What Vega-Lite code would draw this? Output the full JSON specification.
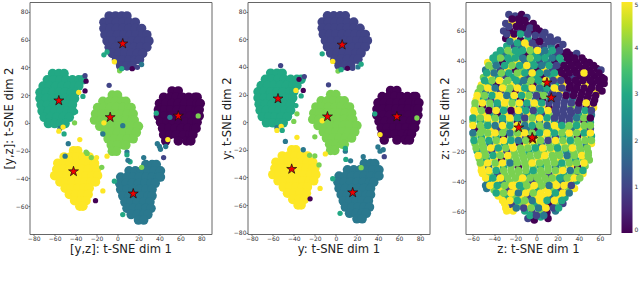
{"$schema":"https://vega.github.io/schema/vega-lite/v6.json","padding":{"left":2.5,"top":1,"right":0,"bottom":0},"spacing":36,"bounds":"flush","background":"white",
"config":{"view":{"stroke":"#666","strokeWidth":1},"axis":{"grid":false,"domain":false,"labelFontSize":6,"labelColor":"#333","tickSize":1.5,"tickColor":"#444","tickWidth":0.7,"labelPadding":0,"titleFont":"DejaVu Sans","labelFont":"DejaVu Sans","titleFontSize":11.6,"titleFontWeight":"normal","titleColor":"#222"},"legend":{"gradientLength":231,"gradientThickness":11,"labelFontSize":6,"labelFont":"DejaVu Sans","labelColor":"#333","offset":10,"padding":0,"title":null}},
"datasets":{
"core":[
{"x":-8,"y":77,"c":1},{"x":-2,"y":77,"c":1},{"x":4,"y":77,"c":1},{"x":9,"y":77,"c":1},{"x":-13,"y":72.5,"c":1},{"x":-7,"y":72.5,"c":1},{"x":-1,"y":72.5,"c":1},{"x":5,"y":72.5,"c":1},{"x":11,"y":72.5,"c":1},{"x":17,"y":72.5,"c":1},{"x":-13,"y":68,"c":1},{"x":-7,"y":68,"c":1},{"x":-1,"y":68,"c":1},{"x":5,"y":68,"c":1},{"x":11,"y":68,"c":1},{"x":17,"y":68,"c":1},{"x":23,"y":68,"c":1},{"x":-12,"y":63.5,"c":1},{"x":-6,"y":63.5,"c":1},{"x":0,"y":63.5,"c":1},{"x":6,"y":63.5,"c":1},{"x":12,"y":63.5,"c":1},{"x":18,"y":63.5,"c":1},{"x":24,"y":63.5,"c":1},{"x":28,"y":63.5,"c":1},{"x":-10,"y":59,"c":1},{"x":-4,"y":59,"c":1},{"x":2,"y":59,"c":1},{"x":8,"y":59,"c":1},{"x":14,"y":59,"c":1},{"x":20,"y":59,"c":1},{"x":26,"y":59,"c":1},{"x":30,"y":59,"c":1},{"x":-8,"y":54.5,"c":1},{"x":-2,"y":54.5,"c":1},{"x":4,"y":54.5,"c":1},{"x":10,"y":54.5,"c":1},{"x":16,"y":54.5,"c":1},{"x":22,"y":54.5,"c":1},{"x":28,"y":54.5,"c":1},{"x":-5,"y":50,"c":1},{"x":1,"y":50,"c":1},{"x":7,"y":50,"c":1},{"x":13,"y":50,"c":1},{"x":19,"y":50,"c":1},{"x":24,"y":50,"c":1},{"x":-1,"y":45.5,"c":1},{"x":5,"y":45.5,"c":1},{"x":11,"y":45.5,"c":1},{"x":17,"y":45.5,"c":1},{"x":21,"y":45.5,"c":1},{"x":3,"y":41,"c":1},{"x":9,"y":41,"c":1},{"x":14,"y":41,"c":1},
{"x":-62,"y":35.5,"c":3},{"x":-56,"y":35.5,"c":3},{"x":-51,"y":35.5,"c":3},{"x":-67,"y":31,"c":3},{"x":-61,"y":31,"c":3},{"x":-55,"y":31,"c":3},{"x":-49,"y":31,"c":3},{"x":-43,"y":31,"c":3},{"x":-37,"y":31,"c":3},{"x":-33,"y":31,"c":3},{"x":-71,"y":26.5,"c":3},{"x":-65,"y":26.5,"c":3},{"x":-59,"y":26.5,"c":3},{"x":-53,"y":26.5,"c":3},{"x":-47,"y":26.5,"c":3},{"x":-41,"y":26.5,"c":3},{"x":-37,"y":26.5,"c":3},{"x":-74,"y":22,"c":3},{"x":-68,"y":22,"c":3},{"x":-62,"y":22,"c":3},{"x":-56,"y":22,"c":3},{"x":-50,"y":22,"c":3},{"x":-44,"y":22,"c":3},{"x":-40,"y":22,"c":3},{"x":-74,"y":17.5,"c":3},{"x":-68,"y":17.5,"c":3},{"x":-62,"y":17.5,"c":3},{"x":-56,"y":17.5,"c":3},{"x":-50,"y":17.5,"c":3},{"x":-44,"y":17.5,"c":3},{"x":-41,"y":17.5,"c":3},{"x":-73,"y":13,"c":3},{"x":-67,"y":13,"c":3},{"x":-61,"y":13,"c":3},{"x":-55,"y":13,"c":3},{"x":-49,"y":13,"c":3},{"x":-43,"y":13,"c":3},{"x":-72,"y":8.5,"c":3},{"x":-66,"y":8.5,"c":3},{"x":-60,"y":8.5,"c":3},{"x":-54,"y":8.5,"c":3},{"x":-48,"y":8.5,"c":3},{"x":-43,"y":8.5,"c":3},{"x":-70,"y":4,"c":3},{"x":-64,"y":4,"c":3},{"x":-58,"y":4,"c":3},{"x":-52,"y":4,"c":3},{"x":-46,"y":4,"c":3},{"x":-66,"y":-0.5,"c":3},{"x":-60,"y":-0.5,"c":3},{"x":-54,"y":-0.5,"c":3},{"x":-50,"y":-0.5,"c":3},
{"x":-5,"y":20,"c":4},{"x":0,"y":20,"c":4},{"x":-14,"y":15.5,"c":4},{"x":-8,"y":15.5,"c":4},{"x":-2,"y":15.5,"c":4},{"x":4,"y":15.5,"c":4},{"x":8,"y":15.5,"c":4},{"x":-19,"y":11,"c":4},{"x":-13,"y":11,"c":4},{"x":-7,"y":11,"c":4},{"x":-1,"y":11,"c":4},{"x":5,"y":11,"c":4},{"x":11,"y":11,"c":4},{"x":13,"y":11,"c":4},{"x":-21,"y":6.5,"c":4},{"x":-15,"y":6.5,"c":4},{"x":-9,"y":6.5,"c":4},{"x":-3,"y":6.5,"c":4},{"x":3,"y":6.5,"c":4},{"x":9,"y":6.5,"c":4},{"x":15,"y":6.5,"c":4},{"x":-22,"y":2,"c":4},{"x":-16,"y":2,"c":4},{"x":-10,"y":2,"c":4},{"x":-4,"y":2,"c":4},{"x":2,"y":2,"c":4},{"x":8,"y":2,"c":4},{"x":14,"y":2,"c":4},{"x":16,"y":2,"c":4},{"x":-17,"y":-2.5,"c":4},{"x":-11,"y":-2.5,"c":4},{"x":-5,"y":-2.5,"c":4},{"x":1,"y":-2.5,"c":4},{"x":7,"y":-2.5,"c":4},{"x":13,"y":-2.5,"c":4},{"x":19,"y":-2.5,"c":4},{"x":20,"y":-2.5,"c":4},{"x":-12,"y":-7,"c":4},{"x":-6,"y":-7,"c":4},{"x":0,"y":-7,"c":4},{"x":6,"y":-7,"c":4},{"x":12,"y":-7,"c":4},{"x":18,"y":-7,"c":4},{"x":-9,"y":-11.5,"c":4},{"x":-3,"y":-11.5,"c":4},{"x":3,"y":-11.5,"c":4},{"x":9,"y":-11.5,"c":4},{"x":15,"y":-11.5,"c":4},{"x":-6,"y":-16,"c":4},{"x":0,"y":-16,"c":4},{"x":6,"y":-16,"c":4},{"x":8,"y":-16,"c":4},{"x":-5,"y":-20.5,"c":4},{"x":-1,"y":-20.5,"c":4},
{"x":-42,"y":-20,"c":5},{"x":-38,"y":-20,"c":5},{"x":-51,"y":-24.5,"c":5},{"x":-45,"y":-24.5,"c":5},{"x":-39,"y":-24.5,"c":5},{"x":-33,"y":-24.5,"c":5},{"x":-27,"y":-24.5,"c":5},{"x":-57,"y":-29,"c":5},{"x":-51,"y":-29,"c":5},{"x":-45,"y":-29,"c":5},{"x":-39,"y":-29,"c":5},{"x":-33,"y":-29,"c":5},{"x":-27,"y":-29,"c":5},{"x":-22,"y":-29,"c":5},{"x":-58,"y":-33.5,"c":5},{"x":-52,"y":-33.5,"c":5},{"x":-46,"y":-33.5,"c":5},{"x":-40,"y":-33.5,"c":5},{"x":-34,"y":-33.5,"c":5},{"x":-28,"y":-33.5,"c":5},{"x":-22,"y":-33.5,"c":5},{"x":-20,"y":-33.5,"c":5},{"x":-60,"y":-38,"c":5},{"x":-54,"y":-38,"c":5},{"x":-48,"y":-38,"c":5},{"x":-42,"y":-38,"c":5},{"x":-36,"y":-38,"c":5},{"x":-30,"y":-38,"c":5},{"x":-24,"y":-38,"c":5},{"x":-19,"y":-38,"c":5},{"x":-55,"y":-42.5,"c":5},{"x":-49,"y":-42.5,"c":5},{"x":-43,"y":-42.5,"c":5},{"x":-37,"y":-42.5,"c":5},{"x":-31,"y":-42.5,"c":5},{"x":-25,"y":-42.5,"c":5},{"x":-21,"y":-42.5,"c":5},{"x":-50,"y":-47,"c":5},{"x":-44,"y":-47,"c":5},{"x":-38,"y":-47,"c":5},{"x":-32,"y":-47,"c":5},{"x":-27,"y":-47,"c":5},{"x":-46,"y":-51.5,"c":5},{"x":-40,"y":-51.5,"c":5},{"x":-34,"y":-51.5,"c":5},{"x":-28,"y":-51.5,"c":5},{"x":-41,"y":-56,"c":5},{"x":-35,"y":-56,"c":5},{"x":-30,"y":-56,"c":5},{"x":-36,"y":-60,"c":5},{"x":-33,"y":-60,"c":5},
{"x":27,"y":-30,"c":2},{"x":33,"y":-30,"c":2},{"x":37,"y":-30,"c":2},{"x":11,"y":-34.5,"c":2},{"x":17,"y":-34.5,"c":2},{"x":23,"y":-34.5,"c":2},{"x":29,"y":-34.5,"c":2},{"x":35,"y":-34.5,"c":2},{"x":41,"y":-34.5,"c":2},{"x":3,"y":-39,"c":2},{"x":9,"y":-39,"c":2},{"x":15,"y":-39,"c":2},{"x":21,"y":-39,"c":2},{"x":27,"y":-39,"c":2},{"x":33,"y":-39,"c":2},{"x":39,"y":-39,"c":2},{"x":41,"y":-39,"c":2},{"x":2,"y":-43.5,"c":2},{"x":8,"y":-43.5,"c":2},{"x":14,"y":-43.5,"c":2},{"x":20,"y":-43.5,"c":2},{"x":26,"y":-43.5,"c":2},{"x":32,"y":-43.5,"c":2},{"x":36,"y":-43.5,"c":2},{"x":3,"y":-48,"c":2},{"x":9,"y":-48,"c":2},{"x":15,"y":-48,"c":2},{"x":21,"y":-48,"c":2},{"x":27,"y":-48,"c":2},{"x":33,"y":-48,"c":2},{"x":5,"y":-52.5,"c":2},{"x":11,"y":-52.5,"c":2},{"x":17,"y":-52.5,"c":2},{"x":23,"y":-52.5,"c":2},{"x":29,"y":-52.5,"c":2},{"x":33,"y":-52.5,"c":2},{"x":7,"y":-57,"c":2},{"x":13,"y":-57,"c":2},{"x":19,"y":-57,"c":2},{"x":25,"y":-57,"c":2},{"x":31,"y":-57,"c":2},{"x":9,"y":-61.5,"c":2},{"x":15,"y":-61.5,"c":2},{"x":21,"y":-61.5,"c":2},{"x":27,"y":-61.5,"c":2},{"x":32,"y":-61.5,"c":2},{"x":13,"y":-66,"c":2},{"x":19,"y":-66,"c":2},{"x":25,"y":-66,"c":2},{"x":29,"y":-66,"c":2},{"x":20,"y":-70,"c":2},{"x":25,"y":-70,"c":2},
{"x":52,"y":23,"c":0},{"x":58,"y":23,"c":0},{"x":44,"y":18.5,"c":0},{"x":50,"y":18.5,"c":0},{"x":56,"y":18.5,"c":0},{"x":62,"y":18.5,"c":0},{"x":68,"y":18.5,"c":0},{"x":74,"y":18.5,"c":0},{"x":76,"y":18.5,"c":0},{"x":40,"y":14,"c":0},{"x":46,"y":14,"c":0},{"x":52,"y":14,"c":0},{"x":58,"y":14,"c":0},{"x":64,"y":14,"c":0},{"x":70,"y":14,"c":0},{"x":76,"y":14,"c":0},{"x":79,"y":14,"c":0},{"x":39,"y":9.5,"c":0},{"x":45,"y":9.5,"c":0},{"x":51,"y":9.5,"c":0},{"x":57,"y":9.5,"c":0},{"x":63,"y":9.5,"c":0},{"x":69,"y":9.5,"c":0},{"x":75,"y":9.5,"c":0},{"x":78,"y":9.5,"c":0},{"x":39,"y":5,"c":0},{"x":45,"y":5,"c":0},{"x":51,"y":5,"c":0},{"x":57,"y":5,"c":0},{"x":63,"y":5,"c":0},{"x":69,"y":5,"c":0},{"x":75,"y":5,"c":0},{"x":78,"y":5,"c":0},{"x":41,"y":0.5,"c":0},{"x":47,"y":0.5,"c":0},{"x":53,"y":0.5,"c":0},{"x":59,"y":0.5,"c":0},{"x":65,"y":0.5,"c":0},{"x":71,"y":0.5,"c":0},{"x":76,"y":0.5,"c":0},{"x":43,"y":-4,"c":0},{"x":49,"y":-4,"c":0},{"x":55,"y":-4,"c":0},{"x":61,"y":-4,"c":0},{"x":67,"y":-4,"c":0},{"x":73,"y":-4,"c":0},{"x":75,"y":-4,"c":0},{"x":44,"y":-8.5,"c":0},{"x":50,"y":-8.5,"c":0},{"x":56,"y":-8.5,"c":0},{"x":63,"y":-8.5,"c":0},{"x":69,"y":-8.5,"c":0},{"x":72,"y":-8.5,"c":0},{"x":46,"y":-13,"c":0},{"x":58,"y":-13,"c":0},{"x":66,"y":-13,"c":0},{"x":70,"y":-13,"c":0}],
"s1":[{"x":-13,"y":49,"c":3},{"x":-10,"y":51,"c":3},{"x":-3,"y":44,"c":5},{"x":2,"y":37.5,"c":4},{"x":4,"y":39,"c":3},{"x":14,"y":39,"c":0},{"x":23,"y":42,"c":2},{"x":19,"y":40,"c":1},{"x":-31,"y":34,"c":1},{"x":-30,"y":30,"c":0},{"x":-31,"y":23,"c":0},{"x":-37,"y":22,"c":5},{"x":-33,"y":19,"c":3},{"x":-55,"y":-4,"c":2},{"x":-56,"y":-6,"c":5},{"x":-52,"y":-3,"c":5},{"x":-51,"y":-8,"c":3},{"x":-41,"y":0,"c":4},{"x":-40,"y":8,"c":3},{"x":-8,"y":27,"c":1},{"x":-13,"y":0,"c":5},{"x":5,"y":-2,"c":2},{"x":-14,"y":-8,"c":2},{"x":9,"y":-21,"c":2},{"x":9,"y":-23,"c":3},{"x":-10,"y":-24,"c":5},{"x":-29,"y":-22,"c":4},{"x":-25,"y":-25,"c":4},{"x":-20,"y":-25,"c":5},{"x":-15,"y":-32,"c":4},{"x":-36,"y":-12,"c":5},{"x":-47,"y":-15,"c":2},{"x":-30,"y":-21,"c":4},{"x":-21,"y":-56,"c":0},{"x":-14,"y":-49,"c":5},{"x":-50,"y":-24,"c":2},{"x":-3,"y":-42,"c":3},{"x":23,"y":-32,"c":4},{"x":12,"y":-28,"c":3},{"x":10,"y":-27,"c":2},{"x":25,"y":-25,"c":2},{"x":44,"y":-25,"c":1},{"x":5,"y":-66,"c":3},{"x":38,"y":-15,"c":2},{"x":40,"y":-17,"c":2},{"x":41,"y":-19,"c":2},{"x":46,"y":-17,"c":2},{"x":48,"y":-12,"c":5},{"x":77,"y":5,"c":4},{"x":37,"y":7,"c":3},{"x":50,"y":4,"c":2}],
"s2":[{"x":-13,"y":49.5,"c":3},{"x":-3,"y":44,"c":5},{"x":2,"y":37,"c":4},{"x":5,"y":38,"c":3},{"x":11,"y":39,"c":0},{"x":16,"y":39,"c":1},{"x":21,"y":40,"c":2},{"x":24,"y":42,"c":3},{"x":-52.5,"y":41,"c":1},{"x":-30,"y":33,"c":1},{"x":-35,"y":31,"c":0},{"x":-31,"y":23,"c":0},{"x":-38,"y":23,"c":5},{"x":-33,"y":19,"c":3},{"x":-38,"y":12,"c":3},{"x":-56,"y":-4,"c":2},{"x":-56,"y":-6,"c":5},{"x":-52,"y":-3,"c":5},{"x":-51,"y":-6,"c":3},{"x":-40,"y":0.5,"c":4},{"x":-37,"y":6,"c":4},{"x":-7,"y":27,"c":1},{"x":-20,"y":-10.6,"c":4},{"x":-13,"y":1,"c":5},{"x":-37,"y":-11,"c":5},{"x":-48,"y":-14,"c":2},{"x":-31,"y":-20,"c":2},{"x":-25,"y":-24,"c":4},{"x":-20,"y":-24.5,"c":4},{"x":-10,"y":-23,"c":5},{"x":-16,"y":-31,"c":4},{"x":-15,"y":-48,"c":5},{"x":-24.5,"y":-55.5,"c":0},{"x":-3,"y":-41,"c":3},{"x":9.5,"y":-27,"c":3},{"x":14,"y":-28,"c":2},{"x":24,"y":-33,"c":4},{"x":26,"y":-25,"c":2},{"x":9,"y":-21,"c":2},{"x":9,"y":-19,"c":3},{"x":40,"y":-18,"c":2},{"x":42,"y":-21,"c":2},{"x":46,"y":-25,"c":1},{"x":45,"y":-20,"c":2},{"x":42,"y":-9,"c":5},{"x":77,"y":3,"c":4},{"x":37,"y":6,"c":3},{"x":4,"y":-66,"c":3}],
"z":[
{"x":-26,"y":71,"c":1},{"x":-20,"y":70,"c":1},{"x":-14,"y":71,"c":0},{"x":-9,"y":69,"c":1},
{"x":-29,"y":65,"c":1},{"x":-23,"y":66,"c":5},{"x":-16,"y":65,"c":0},{"x":-9,"y":64,"c":0},{"x":-3,"y":65,"c":0},
{"x":-31,"y":60,"c":1},{"x":-25,"y":60,"c":0},{"x":-18,"y":61,"c":1},{"x":-11,"y":59,"c":2},{"x":-4,"y":60,"c":0},{"x":3,"y":60,"c":0},{"x":8,"y":59,"c":1},
{"x":-29,"y":55,"c":0},{"x":-22,"y":56,"c":5},{"x":-15,"y":54,"c":0},{"x":-8,"y":55,"c":3},{"x":-1,"y":54,"c":0},{"x":6,"y":55,"c":1},{"x":13,"y":56,"c":1},{"x":20,"y":54,"c":1},
{"x":-28,"y":50,"c":3},{"x":-21,"y":50,"c":1},{"x":-14,"y":49,"c":2},{"x":-7,"y":50,"c":5},{"x":0,"y":49,"c":1},{"x":7,"y":50,"c":1},{"x":14,"y":50,"c":2},{"x":21,"y":49,"c":0},{"x":25,"y":51,"c":1},
{"x":-38,"y":44,"c":3},{"x":-31,"y":45,"c":2},{"x":-24,"y":44,"c":4},{"x":-17,"y":45,"c":3},{"x":-10,"y":44,"c":0},{"x":-3,"y":45,"c":3},{"x":4,"y":44,"c":2},{"x":11,"y":45,"c":3},{"x":18,"y":44,"c":1},{"x":25,"y":45,"c":0},{"x":32,"y":44,"c":0},{"x":38,"y":45,"c":1},
{"x":-46,"y":39,"c":5},{"x":-39,"y":40,"c":3},{"x":-32,"y":39,"c":0},{"x":-25,"y":40,"c":3},{"x":-18,"y":39,"c":5},{"x":-11,"y":40,"c":2},{"x":-4,"y":39,"c":3},{"x":3,"y":40,"c":1},{"x":10,"y":39,"c":2},{"x":17,"y":40,"c":0},{"x":24,"y":39,"c":3},{"x":31,"y":40,"c":0},{"x":38,"y":39,"c":0},{"x":45,"y":40,"c":0},{"x":50,"y":39,"c":0},
{"x":-48,"y":34,"c":2},{"x":-41,"y":35,"c":4},{"x":-34,"y":34,"c":1},{"x":-27,"y":35,"c":5},{"x":-20,"y":34,"c":0},{"x":-13,"y":35,"c":4},{"x":-6,"y":34,"c":2},{"x":1,"y":35,"c":0},{"x":8,"y":34,"c":5},{"x":15,"y":35,"c":1},{"x":22,"y":34,"c":0},{"x":29,"y":35,"c":0},{"x":36,"y":34,"c":0},{"x":43,"y":35,"c":0},{"x":50,"y":34,"c":0},{"x":57,"y":35,"c":0},{"x":61,"y":34,"c":1},
{"x":-50,"y":29,"c":4},{"x":-43,"y":30,"c":5},{"x":-36,"y":29,"c":3},{"x":-29,"y":30,"c":1},{"x":-22,"y":29,"c":3},{"x":-15,"y":30,"c":5},{"x":-8,"y":29,"c":1},{"x":-1,"y":30,"c":3},{"x":6,"y":29,"c":0},{"x":13,"y":30,"c":3},{"x":20,"y":29,"c":5},{"x":27,"y":30,"c":0},{"x":34,"y":29,"c":1},{"x":41,"y":30,"c":0},{"x":48,"y":29,"c":0},{"x":55,"y":30,"c":0},{"x":62,"y":29,"c":0},
{"x":-52,"y":24,"c":5},{"x":-45,"y":25,"c":3},{"x":-38,"y":24,"c":0},{"x":-31,"y":25,"c":4},{"x":-24,"y":24,"c":5},{"x":-17,"y":25,"c":2},{"x":-10,"y":24,"c":4},{"x":-3,"y":25,"c":0},{"x":4,"y":24,"c":4},{"x":11,"y":25,"c":1},{"x":18,"y":24,"c":3},{"x":25,"y":25,"c":5},{"x":32,"y":24,"c":0},{"x":39,"y":25,"c":0},{"x":46,"y":24,"c":5},{"x":53,"y":25,"c":0},{"x":60,"y":24,"c":0},{"x":64,"y":25,"c":0},
{"x":-55,"y":19,"c":4},{"x":-48,"y":20,"c":2},{"x":-41,"y":19,"c":5},{"x":-34,"y":20,"c":1},{"x":-27,"y":19,"c":4},{"x":-20,"y":20,"c":0},{"x":-13,"y":19,"c":5},{"x":-6,"y":20,"c":2},{"x":1,"y":19,"c":4},{"x":8,"y":20,"c":2},{"x":15,"y":19,"c":1},{"x":22,"y":20,"c":5},{"x":29,"y":19,"c":1},{"x":36,"y":20,"c":0},{"x":43,"y":19,"c":0},{"x":50,"y":20,"c":0},{"x":57,"y":19,"c":5},{"x":62,"y":20,"c":0},
{"x":-57,"y":14,"c":5},{"x":-50,"y":15,"c":3},{"x":-43,"y":14,"c":1},{"x":-36,"y":15,"c":5},{"x":-29,"y":14,"c":5},{"x":-22,"y":15,"c":3},{"x":-15,"y":14,"c":0},{"x":-8,"y":15,"c":5},{"x":-1,"y":14,"c":2},{"x":6,"y":15,"c":0},{"x":13,"y":14,"c":3},{"x":20,"y":15,"c":1},{"x":27,"y":14,"c":1},{"x":34,"y":15,"c":2},{"x":41,"y":14,"c":0},{"x":48,"y":15,"c":0},{"x":55,"y":14,"c":0},
{"x":-58,"y":9,"c":4},{"x":-51,"y":10,"c":0},{"x":-44,"y":9,"c":4},{"x":-37,"y":10,"c":2},{"x":-30,"y":9,"c":4},{"x":-23,"y":10,"c":5},{"x":-16,"y":9,"c":3},{"x":-9,"y":10,"c":1},{"x":-2,"y":9,"c":4},{"x":5,"y":10,"c":5},{"x":12,"y":9,"c":0},{"x":19,"y":10,"c":1},{"x":26,"y":9,"c":1},{"x":33,"y":10,"c":4},{"x":40,"y":9,"c":1},{"x":47,"y":10,"c":0},{"x":54,"y":9,"c":5},
{"x":-58,"y":4,"c":5},{"x":-51,"y":5,"c":5},{"x":-44,"y":4,"c":3},{"x":-37,"y":5,"c":0},{"x":-30,"y":4,"c":5},{"x":-23,"y":5,"c":1},{"x":-16,"y":4,"c":2},{"x":-9,"y":5,"c":5},{"x":-2,"y":4,"c":3},{"x":5,"y":5,"c":1},{"x":12,"y":4,"c":4},{"x":19,"y":5,"c":1},{"x":26,"y":4,"c":1},{"x":33,"y":5,"c":1},{"x":40,"y":4,"c":3},{"x":47,"y":5,"c":5},{"x":52,"y":4,"c":2},
{"x":-60,"y":0,"c":4},{"x":-53,"y":0,"c":3},{"x":-46,"y":-1,"c":4},{"x":-39,"y":0,"c":5},{"x":-32,"y":-1,"c":2},{"x":-25,"y":0,"c":4},{"x":-18,"y":-1,"c":0},{"x":-11,"y":0,"c":4},{"x":-4,"y":-1,"c":5},{"x":3,"y":0,"c":2},{"x":10,"y":-1,"c":5},{"x":17,"y":0,"c":3},{"x":24,"y":-1,"c":1},{"x":31,"y":0,"c":1},{"x":38,"y":-1,"c":4},{"x":45,"y":0,"c":0},{"x":51,"y":-1,"c":3},
{"x":-58,"y":-5,"c":0},{"x":-51,"y":-6,"c":4},{"x":-44,"y":-5,"c":5},{"x":-37,"y":-6,"c":1},{"x":-30,"y":-5,"c":4},{"x":-23,"y":-6,"c":5},{"x":-16,"y":-5,"c":4},{"x":-9,"y":-6,"c":2},{"x":-2,"y":-5,"c":0},{"x":5,"y":-6,"c":4},{"x":12,"y":-5,"c":3},{"x":19,"y":-6,"c":5},{"x":26,"y":-5,"c":4},{"x":33,"y":-6,"c":2},{"x":40,"y":-5,"c":5},{"x":47,"y":-6,"c":4},{"x":51,"y":-5,"c":1},
{"x":-59,"y":-10,"c":4},{"x":-52,"y":-11,"c":3},{"x":-45,"y":-10,"c":5},{"x":-38,"y":-11,"c":3},{"x":-31,"y":-10,"c":0},{"x":-24,"y":-11,"c":4},{"x":-17,"y":-10,"c":5},{"x":-10,"y":-11,"c":1},{"x":-3,"y":-10,"c":3},{"x":4,"y":-11,"c":5},{"x":11,"y":-10,"c":4},{"x":18,"y":-11,"c":1},{"x":25,"y":-10,"c":3},{"x":32,"y":-11,"c":4},{"x":39,"y":-10,"c":0},{"x":46,"y":-11,"c":5},{"x":52,"y":-10,"c":3},
{"x":-58,"y":-15,"c":4},{"x":-51,"y":-16,"c":4},{"x":-44,"y":-15,"c":2},{"x":-37,"y":-16,"c":5},{"x":-30,"y":-15,"c":3},{"x":-23,"y":-16,"c":5},{"x":-16,"y":-15,"c":0},{"x":-9,"y":-16,"c":5},{"x":-2,"y":-15,"c":4},{"x":5,"y":-16,"c":2},{"x":12,"y":-15,"c":4},{"x":19,"y":-16,"c":4},{"x":26,"y":-15,"c":5},{"x":33,"y":-16,"c":4},{"x":40,"y":-15,"c":4},{"x":47,"y":-16,"c":2},{"x":52,"y":-15,"c":5},
{"x":-56,"y":-20,"c":3},{"x":-49,"y":-21,"c":4},{"x":-42,"y":-20,"c":1},{"x":-35,"y":-21,"c":5},{"x":-28,"y":-20,"c":1},{"x":-21,"y":-21,"c":4},{"x":-14,"y":-20,"c":4},{"x":-7,"y":-21,"c":3},{"x":0,"y":-20,"c":4},{"x":7,"y":-21,"c":4},{"x":14,"y":-20,"c":5},{"x":21,"y":-21,"c":4},{"x":28,"y":-20,"c":3},{"x":35,"y":-21,"c":4},{"x":42,"y":-20,"c":4},{"x":49,"y":-21,"c":4},
{"x":-54,"y":-25,"c":4},{"x":-47,"y":-26,"c":3},{"x":-40,"y":-25,"c":5},{"x":-33,"y":-26,"c":0},{"x":-26,"y":-25,"c":4},{"x":-19,"y":-26,"c":4},{"x":-12,"y":-25,"c":4},{"x":-5,"y":-26,"c":4},{"x":2,"y":-25,"c":5},{"x":9,"y":-26,"c":4},{"x":16,"y":-25,"c":4},{"x":23,"y":-26,"c":5},{"x":30,"y":-25,"c":4},{"x":37,"y":-26,"c":3},{"x":44,"y":-25,"c":4},{"x":50,"y":-26,"c":4},
{"x":-52,"y":-30,"c":5},{"x":-45,"y":-31,"c":2},{"x":-38,"y":-30,"c":5},{"x":-31,"y":-31,"c":3},{"x":-24,"y":-30,"c":4},{"x":-17,"y":-31,"c":0},{"x":-10,"y":-30,"c":4},{"x":-3,"y":-31,"c":4},{"x":4,"y":-30,"c":3},{"x":11,"y":-31,"c":4},{"x":18,"y":-30,"c":2},{"x":25,"y":-31,"c":4},{"x":32,"y":-30,"c":5},{"x":39,"y":-31,"c":0},{"x":46,"y":-30,"c":4},
{"x":-51,"y":-35,"c":5},{"x":-44,"y":-36,"c":4},{"x":-37,"y":-35,"c":1},{"x":-30,"y":-36,"c":4},{"x":-23,"y":-35,"c":4},{"x":-16,"y":-36,"c":4},{"x":-9,"y":-35,"c":3},{"x":-2,"y":-36,"c":4},{"x":5,"y":-35,"c":4},{"x":12,"y":-36,"c":1},{"x":19,"y":-35,"c":5},{"x":26,"y":-36,"c":3},{"x":33,"y":-35,"c":4},{"x":40,"y":-36,"c":2},{"x":44,"y":-35,"c":5},
{"x":-46,"y":-40,"c":3},{"x":-39,"y":-41,"c":5},{"x":-32,"y":-40,"c":2},{"x":-25,"y":-41,"c":4},{"x":-18,"y":-40,"c":5},{"x":-11,"y":-41,"c":4},{"x":-4,"y":-40,"c":1},{"x":3,"y":-41,"c":4},{"x":10,"y":-40,"c":4},{"x":17,"y":-41,"c":5},{"x":24,"y":-40,"c":2},{"x":31,"y":-41,"c":5},{"x":38,"y":-40,"c":3},
{"x":-47,"y":-45,"c":2},{"x":-40,"y":-46,"c":4},{"x":-33,"y":-45,"c":5},{"x":-26,"y":-46,"c":1},{"x":-19,"y":-45,"c":5},{"x":-12,"y":-46,"c":3},{"x":-5,"y":-45,"c":5},{"x":2,"y":-46,"c":3},{"x":9,"y":-45,"c":5},{"x":16,"y":-46,"c":4},{"x":23,"y":-45,"c":1},{"x":30,"y":-46,"c":4},{"x":36,"y":-45,"c":5},
{"x":-36,"y":-50,"c":5},{"x":-29,"y":-51,"c":3},{"x":-22,"y":-50,"c":4},{"x":-15,"y":-51,"c":5},{"x":-8,"y":-50,"c":1},{"x":-1,"y":-51,"c":5},{"x":6,"y":-50,"c":5},{"x":13,"y":-51,"c":2},{"x":20,"y":-50,"c":5},{"x":27,"y":-51,"c":3},
{"x":-30,"y":-55,"c":5},{"x":-23,"y":-56,"c":1},{"x":-16,"y":-55,"c":4},{"x":-9,"y":-56,"c":5},{"x":-2,"y":-55,"c":3},{"x":5,"y":-56,"c":5},{"x":12,"y":-55,"c":0},{"x":19,"y":-56,"c":4},{"x":25,"y":-55,"c":1},
{"x":-28,"y":-60,"c":5},{"x":-22,"y":-60,"c":5},{"x":-11,"y":-60,"c":3},{"x":-4,"y":-61,"c":1},{"x":3,"y":-60,"c":4},{"x":10,"y":-61,"c":0},{"x":18,"y":-60,"c":2},
{"x":-8,"y":-65,"c":1},{"x":-2,"y":-66,"c":0},{"x":4,"y":-64,"c":3},{"x":11,"y":-65,"c":0},{"x":-48,"y":-43,"c":2},
{"x":-23,"y":68,"c":0},{"x":-17,"y":68,"c":0},{"x":-11,"y":67,"c":0},{"x":-26,"y":63,"c":1},{"x":-19,"y":63,"c":0},{"x":-13,"y":62,"c":0},{"x":-6,"y":62,"c":1},{"x":0,"y":62,"c":0},{"x":-28,"y":58,"c":1},{"x":-21,"y":58,"c":0},{"x":-15,"y":58,"c":3},{"x":-8,"y":58,"c":1},{"x":-1,"y":57,"c":1},{"x":6,"y":57,"c":1},{"x":11,"y":53,"c":1},{"x":16,"y":53,"c":1},{"x":3,"y":53,"c":0},{"x":-4,"y":52,"c":1},{"x":-11,"y":52,"c":5},{"x":-18,"y":52,"c":3},{"x":-25,"y":53,"c":2},
{"x":-34,"y":47,"c":3},{"x":-27,"y":47,"c":4},{"x":-20,"y":47,"c":3},{"x":-13,"y":47,"c":3},{"x":-6,"y":47,"c":4},{"x":1,"y":47,"c":5},{"x":8,"y":47,"c":2},{"x":15,"y":47,"c":3},{"x":22,"y":47,"c":1},{"x":29,"y":46,"c":0},{"x":36,"y":42,"c":0},{"x":43,"y":42,"c":0},{"x":29,"y":42,"c":0},{"x":22,"y":42,"c":3},{"x":15,"y":42,"c":2},{"x":8,"y":42,"c":3},{"x":1,"y":42,"c":3},{"x":-6,"y":42,"c":4},{"x":-13,"y":42,"c":2},{"x":-20,"y":42,"c":3},{"x":-27,"y":42,"c":3},{"x":-34,"y":42,"c":4},{"x":-41,"y":42,"c":3},
{"x":-45,"y":37,"c":4},{"x":-38,"y":37,"c":2},{"x":-30,"y":37,"c":3},{"x":-23,"y":37,"c":4},{"x":-16,"y":37,"c":3},{"x":-9,"y":37,"c":5},{"x":-2,"y":37,"c":3},{"x":5,"y":37,"c":2},{"x":12,"y":37,"c":3},{"x":19,"y":37,"c":1},{"x":26,"y":37,"c":0},{"x":33,"y":37,"c":0},{"x":40,"y":37,"c":0},{"x":47,"y":37,"c":0},{"x":54,"y":37,"c":0},
{"x":-47,"y":32,"c":3},{"x":-40,"y":32,"c":2},{"x":-33,"y":32,"c":4},{"x":-26,"y":32,"c":3},{"x":-18,"y":32,"c":4},{"x":-11,"y":32,"c":3},{"x":-4,"y":32,"c":5},{"x":3,"y":32,"c":3},{"x":10,"y":32,"c":2},{"x":17,"y":32,"c":3},{"x":24,"y":32,"c":0},{"x":31,"y":32,"c":0},{"x":38,"y":32,"c":0},{"x":45,"y":32,"c":5},{"x":52,"y":32,"c":0},{"x":59,"y":32,"c":0},
{"x":-49,"y":27,"c":3},{"x":-42,"y":27,"c":4},{"x":-35,"y":27,"c":5},{"x":-27,"y":27,"c":4},{"x":-19,"y":27,"c":3},{"x":-12,"y":27,"c":2},{"x":-5,"y":27,"c":4},{"x":2,"y":27,"c":3},{"x":9,"y":27,"c":5},{"x":16,"y":27,"c":1},{"x":23,"y":27,"c":1},{"x":30,"y":27,"c":0},{"x":37,"y":27,"c":0},{"x":44,"y":27,"c":0},{"x":51,"y":27,"c":0},{"x":58,"y":27,"c":0},{"x":64,"y":28,"c":0},
{"x":-53,"y":22,"c":4},{"x":-46,"y":22,"c":5},{"x":-39,"y":22,"c":2},{"x":-32,"y":22,"c":5},{"x":-25,"y":22,"c":4},{"x":-18,"y":22,"c":5},{"x":-11,"y":22,"c":3},{"x":-4,"y":22,"c":5},{"x":3,"y":22,"c":2},{"x":10,"y":22,"c":3},{"x":17,"y":22,"c":5},{"x":24,"y":22,"c":1},{"x":31,"y":22,"c":0},{"x":38,"y":22,"c":0},{"x":45,"y":22,"c":0},{"x":52,"y":22,"c":0},{"x":59,"y":22,"c":0},
{"x":-56,"y":17,"c":5},{"x":-49,"y":17,"c":4},{"x":-42,"y":17,"c":3},{"x":-35,"y":17,"c":5},{"x":-28,"y":17,"c":2},{"x":-21,"y":17,"c":5},{"x":-14,"y":17,"c":3},{"x":-7,"y":17,"c":4},{"x":0,"y":17,"c":1},{"x":7,"y":17,"c":4},{"x":14,"y":17,"c":1},{"x":21,"y":17,"c":1},{"x":28,"y":17,"c":0},{"x":35,"y":17,"c":0},{"x":42,"y":17,"c":0},{"x":49,"y":17,"c":0},{"x":56,"y":17,"c":0},
{"x":-58,"y":12,"c":4},{"x":-51,"y":12,"c":5},{"x":-44,"y":12,"c":4},{"x":-37,"y":12,"c":3},{"x":-30,"y":12,"c":5},{"x":-23,"y":12,"c":4},{"x":-16,"y":12,"c":5},{"x":-9,"y":12,"c":3},{"x":-2,"y":12,"c":5},{"x":5,"y":12,"c":3},{"x":12,"y":12,"c":1},{"x":19,"y":12,"c":1},{"x":26,"y":12,"c":1},{"x":33,"y":12,"c":1},{"x":40,"y":12,"c":0},{"x":47,"y":12,"c":5},{"x":54,"y":12,"c":0},
{"x":-59,"y":7,"c":5},{"x":-52,"y":7,"c":4},{"x":-45,"y":7,"c":0},{"x":-38,"y":7,"c":5},{"x":-31,"y":7,"c":3},{"x":-24,"y":7,"c":0},{"x":-17,"y":7,"c":5},{"x":-10,"y":7,"c":3},{"x":-3,"y":7,"c":1},{"x":4,"y":7,"c":3},{"x":11,"y":7,"c":5},{"x":18,"y":7,"c":1},{"x":25,"y":7,"c":1},{"x":32,"y":7,"c":1},{"x":39,"y":7,"c":1},{"x":46,"y":7,"c":3},{"x":52,"y":7,"c":1},
{"x":-60,"y":2,"c":3},{"x":-53,"y":2,"c":4},{"x":-46,"y":2,"c":5},{"x":-39,"y":2,"c":4},{"x":-32,"y":2,"c":3},{"x":-25,"y":2,"c":5},{"x":-18,"y":2,"c":3},{"x":-11,"y":2,"c":1},{"x":-4,"y":2,"c":4},{"x":3,"y":2,"c":5},{"x":10,"y":2,"c":3},{"x":17,"y":2,"c":1},{"x":24,"y":2,"c":1},{"x":31,"y":2,"c":1},{"x":38,"y":2,"c":2},{"x":45,"y":2,"c":4},{"x":51,"y":2,"c":0},
{"x":-60,"y":-3,"c":5},{"x":-53,"y":-3,"c":4},{"x":-46,"y":-3,"c":3},{"x":-39,"y":-3,"c":2},{"x":-32,"y":-3,"c":5},{"x":-25,"y":-3,"c":3},{"x":-18,"y":-3,"c":5},{"x":-11,"y":-3,"c":2},{"x":-4,"y":-3,"c":3},{"x":3,"y":-3,"c":4},{"x":10,"y":-3,"c":2},{"x":17,"y":-3,"c":5},{"x":24,"y":-3,"c":3},{"x":31,"y":-3,"c":4},{"x":38,"y":-3,"c":3},{"x":45,"y":-3,"c":4},{"x":51,"y":-3,"c":4},
{"x":-60,"y":-8,"c":2},{"x":-53,"y":-8,"c":4},{"x":-46,"y":-8,"c":4},{"x":-39,"y":-8,"c":5},{"x":-32,"y":-8,"c":4},{"x":-25,"y":-8,"c":2},{"x":-18,"y":-8,"c":4},{"x":-11,"y":-8,"c":5},{"x":-4,"y":-8,"c":4},{"x":3,"y":-8,"c":3},{"x":10,"y":-8,"c":5},{"x":17,"y":-8,"c":3},{"x":24,"y":-8,"c":4},{"x":31,"y":-8,"c":5},{"x":38,"y":-8,"c":4},{"x":45,"y":-8,"c":3},{"x":51,"y":-8,"c":5},
{"x":-59,"y":-13,"c":3},{"x":-52,"y":-13,"c":4},{"x":-45,"y":-13,"c":3},{"x":-38,"y":-13,"c":4},{"x":-31,"y":-13,"c":5},{"x":-24,"y":-13,"c":3},{"x":-17,"y":-13,"c":2},{"x":-10,"y":-13,"c":4},{"x":-3,"y":-13,"c":5},{"x":4,"y":-13,"c":4},{"x":11,"y":-13,"c":1},{"x":18,"y":-13,"c":5},{"x":25,"y":-13,"c":4},{"x":32,"y":-13,"c":3},{"x":39,"y":-13,"c":4},{"x":46,"y":-13,"c":4},{"x":52,"y":-13,"c":4},
{"x":-57,"y":-18,"c":4},{"x":-50,"y":-18,"c":4},{"x":-43,"y":-18,"c":5},{"x":-36,"y":-18,"c":3},{"x":-29,"y":-18,"c":4},{"x":-22,"y":-18,"c":5},{"x":-15,"y":-18,"c":4},{"x":-8,"y":-18,"c":4},{"x":-1,"y":-18,"c":3},{"x":6,"y":-18,"c":5},{"x":13,"y":-18,"c":4},{"x":20,"y":-18,"c":3},{"x":27,"y":-18,"c":4},{"x":34,"y":-18,"c":5},{"x":41,"y":-18,"c":4},{"x":48,"y":-18,"c":4},
{"x":-55,"y":-23,"c":5},{"x":-48,"y":-23,"c":4},{"x":-41,"y":-23,"c":3},{"x":-34,"y":-23,"c":4},{"x":-27,"y":-23,"c":5},{"x":-20,"y":-23,"c":4},{"x":-13,"y":-23,"c":4},{"x":-6,"y":-23,"c":4},{"x":1,"y":-23,"c":4},{"x":8,"y":-23,"c":5},{"x":15,"y":-23,"c":4},{"x":22,"y":-23,"c":4},{"x":29,"y":-23,"c":2},{"x":36,"y":-23,"c":4},{"x":43,"y":-23,"c":5},{"x":49,"y":-23,"c":4},
{"x":-53,"y":-28,"c":4},{"x":-46,"y":-28,"c":5},{"x":-39,"y":-28,"c":4},{"x":-32,"y":-28,"c":5},{"x":-25,"y":-28,"c":2},{"x":-18,"y":-28,"c":4},{"x":-11,"y":-28,"c":4},{"x":-4,"y":-28,"c":5},{"x":3,"y":-28,"c":4},{"x":10,"y":-28,"c":4},{"x":17,"y":-28,"c":4},{"x":24,"y":-28,"c":3},{"x":31,"y":-28,"c":4},{"x":38,"y":-28,"c":4},{"x":45,"y":-28,"c":5},
{"x":-52,"y":-33,"c":5},{"x":-45,"y":-33,"c":5},{"x":-38,"y":-33,"c":3},{"x":-31,"y":-33,"c":4},{"x":-24,"y":-33,"c":4},{"x":-17,"y":-33,"c":4},{"x":-10,"y":-33,"c":4},{"x":-3,"y":-33,"c":3},{"x":4,"y":-33,"c":4},{"x":11,"y":-33,"c":4},{"x":18,"y":-33,"c":4},{"x":25,"y":-33,"c":5},{"x":32,"y":-33,"c":2},{"x":39,"y":-33,"c":4},{"x":44,"y":-33,"c":3},
{"x":-48,"y":-38,"c":5},{"x":-41,"y":-38,"c":3},{"x":-34,"y":-38,"c":5},{"x":-27,"y":-38,"c":4},{"x":-20,"y":-38,"c":4},{"x":-13,"y":-38,"c":5},{"x":-6,"y":-38,"c":4},{"x":1,"y":-38,"c":4},{"x":8,"y":-38,"c":4},{"x":15,"y":-38,"c":4},{"x":22,"y":-38,"c":3},{"x":29,"y":-38,"c":4},{"x":36,"y":-38,"c":5},{"x":41,"y":-38,"c":4},
{"x":-44,"y":-43,"c":5},{"x":-37,"y":-43,"c":3},{"x":-30,"y":-43,"c":4},{"x":-23,"y":-43,"c":5},{"x":-16,"y":-43,"c":3},{"x":-9,"y":-43,"c":4},{"x":-2,"y":-43,"c":5},{"x":5,"y":-43,"c":4},{"x":12,"y":-43,"c":2},{"x":19,"y":-43,"c":5},{"x":26,"y":-43,"c":5},{"x":33,"y":-43,"c":1},
{"x":-38,"y":-48,"c":3},{"x":-31,"y":-48,"c":4},{"x":-24,"y":-48,"c":5},{"x":-17,"y":-48,"c":2},{"x":-10,"y":-48,"c":5},{"x":-3,"y":-48,"c":4},{"x":4,"y":-48,"c":5},{"x":11,"y":-48,"c":5},{"x":18,"y":-48,"c":3},{"x":25,"y":-48,"c":5},{"x":31,"y":-48,"c":2},
{"x":-32,"y":-53,"c":5},{"x":-25,"y":-53,"c":5},{"x":-18,"y":-53,"c":3},{"x":-11,"y":-53,"c":4},{"x":-4,"y":-53,"c":2},{"x":3,"y":-53,"c":5},{"x":10,"y":-53,"c":3},{"x":17,"y":-53,"c":5},{"x":24,"y":-53,"c":3},
{"x":-29,"y":-58,"c":5},{"x":-19,"y":-58,"c":2},{"x":-12,"y":-58,"c":1},{"x":-5,"y":-58,"c":4},{"x":2,"y":-58,"c":2},{"x":9,"y":-58,"c":5},{"x":16,"y":-58,"c":1},{"x":21,"y":-58,"c":3},
{"x":-6,"y":-63,"c":3},{"x":0,"y":-63,"c":1},{"x":7,"y":-63,"c":2}],
"m1":[{"x":5,"y":57},{"x":-56,"y":16},{"x":-7,"y":4},{"x":58,"y":5},{"x":-42,"y":-35},{"x":15,"y":-51}],
"m2":[{"x":6,"y":56},{"x":-55,"y":17},{"x":-8,"y":4},{"x":58,"y":4},{"x":-42,"y":-34},{"x":16,"y":-51}],
"m3":[{"x":-16.7,"y":-4.4},{"x":-3.5,"y":-12},{"x":-4,"y":-11},{"x":10,"y":25.5},{"x":14,"y":15.5}]},
"hconcat":[
{"width":182,"height":232,"encoding":{"x":{"field":"x","type":"quantitative","title":"[y,z]: t-SNE dim 1","scale":{"domain":[-84,89.7],"nice":false,"zero":false},"axis":{"values":[-80,-60,-40,-20,0,20,40,60,80],"titlePadding":2}},"y":{"field":"y","type":"quantitative","title":"[y,z]: t-SNE dim 2","scale":{"domain":[-80,87],"nice":false,"zero":false},"axis":{"values":[-60,-40,-20,0,20,40,60,80],"titlePadding":1}}},
"layer":[{"data":{"name":"core"},"mark":{"type":"circle","size":90,"opacity":1},"encoding":{"color":{"field":"c","type":"quantitative","scale":{"scheme":"viridis","domain":[0,5]},"legend":{"values":[0,1,2,3,4,5]}}}},
{"data":{"name":"s1"},"mark":{"type":"circle","size":28,"opacity":1},"encoding":{"color":{"field":"c","type":"quantitative","legend":{"values":[0,1,2,3,4,5]}}}},
{"data":{"name":"m1"},"mark":{"type":"point","filled":true,"fill":"#f00000","stroke":"#111","strokeWidth":0.7,"opacity":1,"size":110,"shape":"M0,-1L0.2245,-0.309L0.951,-0.309L0.363,0.118L0.588,0.809L0,0.382L-0.588,0.809L-0.363,0.118L-0.951,-0.309L-0.2245,-0.309Z"}}]},
{"width":182,"height":232,"encoding":{"x":{"field":"x","type":"quantitative","title":"y: t-SNE dim 1","scale":{"domain":[-84,89],"nice":false,"zero":false},"axis":{"values":[-80,-60,-40,-20,0,20,40,60,80],"titlePadding":2}},"y":{"field":"y","type":"quantitative","title":"y: t-SNE dim 2","scale":{"domain":[-81,87],"nice":false,"zero":false},"axis":{"values":[-80,-60,-40,-20,0,20,40,60,80],"titlePadding":1}}},
"layer":[{"data":{"name":"core"},"mark":{"type":"circle","size":90,"opacity":1},"encoding":{"color":{"field":"c","type":"quantitative","legend":{"values":[0,1,2,3,4,5]}}}},
{"data":{"name":"s2"},"mark":{"type":"circle","size":28,"opacity":1},"encoding":{"color":{"field":"c","type":"quantitative","legend":{"values":[0,1,2,3,4,5]}}}},
{"data":{"name":"m2"},"mark":{"type":"point","filled":true,"fill":"#f00000","stroke":"#111","strokeWidth":0.7,"opacity":1,"size":110,"shape":"M0,-1L0.2245,-0.309L0.951,-0.309L0.363,0.118L0.588,0.809L0,0.382L-0.588,0.809L-0.363,0.118L-0.951,-0.309L-0.2245,-0.309Z"}}]},
{"width":145,"height":232,"encoding":{"x":{"field":"x","type":"quantitative","title":"z: t-SNE dim 1","scale":{"domain":[-67,70],"nice":false,"zero":false},"axis":{"values":[-60,-40,-20,0,20,40,60],"titlePadding":2}},"y":{"field":"y","type":"quantitative","title":"z: t-SNE dim 2","scale":{"domain":[-75.3,79.3],"nice":false,"zero":false},"axis":{"values":[-60,-40,-20,0,20,40,60],"titlePadding":1}}},
"layer":[{"data":{"name":"z"},"mark":{"type":"circle","size":56,"opacity":1},"encoding":{"color":{"field":"c","type":"quantitative","legend":{"values":[0,1,2,3,4,5]}}}},
{"data":{"name":"m3"},"mark":{"type":"point","filled":true,"fill":"#f00000","stroke":"#111","strokeWidth":0.7,"opacity":1,"size":110,"shape":"M0,-1L0.2245,-0.309L0.951,-0.309L0.363,0.118L0.588,0.809L0,0.382L-0.588,0.809L-0.363,0.118L-0.951,-0.309L-0.2245,-0.309Z"}}]}
]}
